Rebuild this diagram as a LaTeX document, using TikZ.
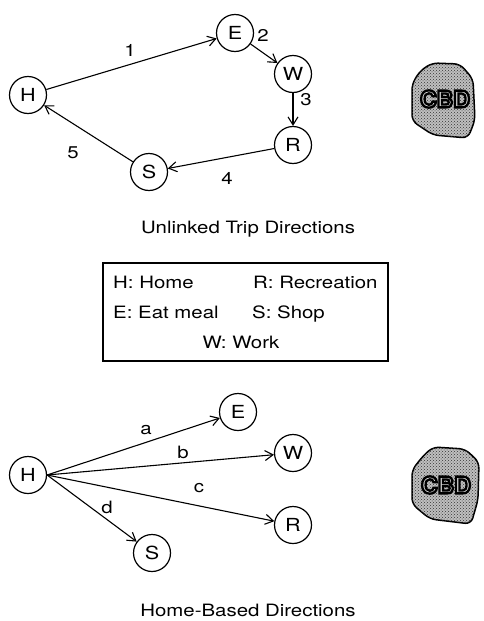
\documentclass[tikz,border=0pt]{standalone}
\usepackage{fontspec}
\setmainfont{TeX Gyre Heros}[FakeStretch=1.2]
% stroked face for the hollow district label
\newfontfamily\cbdfont{TeX Gyre Heros}[FakeBold=10]
\usetikzlibrary{arrows.meta,patterns}

% light letters with a black stroke round them
\newcommand{\hollowtext}[1]{\special{pdf:bcolor [0.85] [0]}#1\special{pdf:ecolor}}

\begin{document}
\begin{tikzpicture}[x=1pt,y=-1pt,
  place/.style={circle,draw,line width=1.2pt,minimum size=37pt,inner sep=0pt,
    font=\fontsize{18}{21}\selectfont},
  trip/.style={-{Straight Barb[length=8pt,width=10pt,line width=1.1pt]},line width=1.1pt},
  lbl/.style={font=\fontsize{17}{20}\selectfont,inner sep=0pt},
  caption/.style={font=\fontsize{17}{20}\selectfont,inner sep=0pt,anchor=base},
  keytext/.style={font=\fontsize{17}{20}\selectfont,inner sep=0pt,anchor=base west},
  cbdzone/.style={draw,line width=1.5pt,rounded corners=6pt,fill=gray!50,
    postaction={pattern=crosshatch dots,pattern color=black!80}},
  cbdtext/.style={inner sep=0pt,font=\cbdfont\fontsize{23}{25}\selectfont\bfseries}
]
\useasboundingbox (0,0) rectangle (484,621);

% ---------- unlinked trip chain ----------
\node[place] (H1) at (28,95)  {H};
\node[place] (E1) at (235,33) {E};
\node[place] (W1) at (293,74) {W};
\node[place] (R1) at (293,145) {R};
\node[place] (S1) at (149,172) {S};

\draw[trip] (H1) -- (E1);
\draw[trip] (E1) -- (W1);
\draw[trip] (W1) -- (R1);
\draw[trip] (R1) -- (S1);
\draw[trip] (S1) -- (H1);

\node[lbl] (n1) at (130,50)  {1};
\node[lbl] (n2) at (263,35)  {2};
\node[lbl] (n3) at (306,100) {3};
\node[lbl] (n4) at (227,178) {4};
\node[lbl] (n5) at (73,153)  {5};

\draw[cbdzone] (420,71) -- (432,63) -- (460,64) -- (473,79) -- (475,120)
  -- (468,138) -- (433,135) -- (412,121) -- (412,84) -- cycle;
\node[cbdtext] (cbd1) at (445,99) {\hollowtext{CBD}};

\node[caption] (cap1) at (248,233) {Unlinked Trip Directions};

% ---------- legend ----------
\draw[line width=1.2pt] (103,263) rectangle (388,361);
\node[keytext] (kH) at (113,288) {H: Home};
\node[keytext] (kR) at (253,288) {R: Recreation};
\node[keytext] (kE) at (113,318) {E: Eat meal};
\node[keytext] (kS) at (252,318) {S: Shop};
\node[caption] (kW) at (241,348) {W: Work};

% ---------- home-based trips ----------
\node[place] (H2) at (28,475)  {H};
\node[place] (E2) at (238,412) {E};
\node[place] (W2) at (293,453) {W};
\node[place] (R2) at (293,525) {R};
\node[place] (S2) at (152,553) {S};

\draw[trip] (H2.east) -- (E2);
\draw[trip] (H2.east) -- (W2);
\draw[trip] (H2.east) -- (R2);
\draw[trip] (H2.east) -- (S2);

\node[lbl] (la) at (146,430) {a};
\node[lbl] (lb) at (183,452) {b};
\node[lbl] (lc) at (199,488) {c};
\node[lbl] (ld) at (107,507) {d};

\draw[cbdzone] (423,456) -- (433,447) -- (465,449) -- (479,462) -- (478,500)
  -- (471,524) -- (430,519) -- (412,504) -- (412,470) -- cycle;
\node[cbdtext] (cbd2) at (446,485) {\hollowtext{CBD}};

\node[caption] (cap2) at (248,616) {Home-Based Directions};
\end{tikzpicture}
\end{document}
